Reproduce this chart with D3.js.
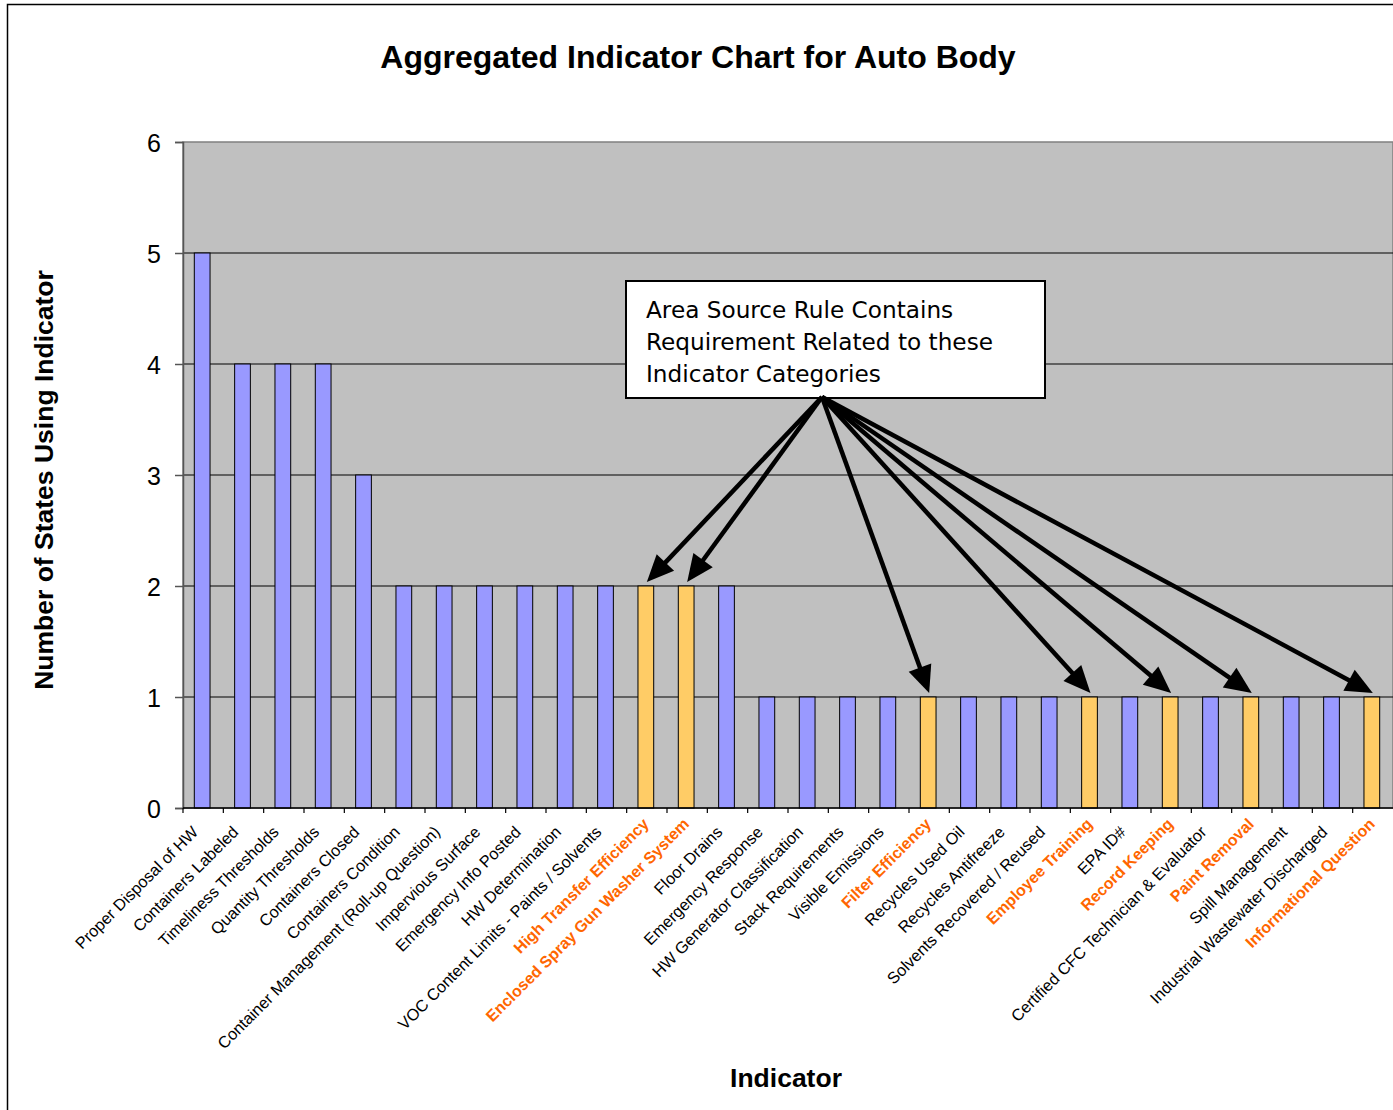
<!DOCTYPE html>
<html>
<head>
<meta charset="utf-8">
<script src="https://cdn.jsdelivr.net/npm/d3@7"></script>
<style>
  html, body { margin: 0; padding: 0; background: #fff; }
  svg { display: block; }
</style>
</head>
<body>
<svg id="chart" width="1393" height="1110"></svg>
<script>
// ---- data ----
const categories = [
  "Proper Disposal of HW", "Containers Labeled", "Timeliness Thresholds", "Quantity Thresholds",
  "Containers Closed", "Containers Condition", "Container Management (Roll-up Question)",
  "Impervious Surface", "Emergency Info Posted", "HW Determination",
  "VOC Content Limits - Paints / Solvents", "High Transfer Efficiency",
  "Enclosed Spray Gun Washer System", "Floor Drains", "Emergency Response",
  "HW Generator Classification", "Stack Requirements", "Visible Emissions",
  "Filter Efficiency", "Recycles Used Oil", "Recycles Antifreeze",
  "Solvents Recovered / Reused", "Employee Training", "EPA ID#", "Record Keeping",
  "Certified CFC Technician & Evaluator", "Paint Removal", "Spill Management",
  "Industrial Wastewater Discharged", "Informational Question"
];
const values = [5, 4, 4, 4, 3, 2, 2, 2, 2, 2, 2, 2, 2, 2, 1, 1, 1, 1, 1, 1, 1, 1, 1, 1, 1, 1, 1, 1, 1, 1];
const highlighted = [
  "High Transfer Efficiency", "Enclosed Spray Gun Washer System", "Filter Efficiency",
  "Employee Training", "Record Keeping", "Paint Removal", "Informational Question"
];
const yTicks = [0, 1, 2, 3, 4, 5, 6];
const titleText = "Aggregated Indicator Chart for Auto Body";
const yTitle = "Number of States Using Indicator";
const xTitle = "Indicator";
const noteLines = ["Area Source Rule Contains", "Requirement Related to these", "Indicator Categories"];

// ---- layout ----
const svg = d3.select("#chart");
const plot = { left: 183, top: 142, right: 1393, bottom: 808 };
const BLUE = "#9999FF", ORANGE_BAR = "#FFCC66", ORANGE_TXT = "#FF6600", PLOT_BG = "#C0C0C0";

const x = d3.scaleBand().domain(categories).range([plot.left, plot.right]).padding(0);
const y = d3.scaleLinear().domain([0, 6]).range([plot.bottom, plot.top]);
const barW = x.bandwidth() * 0.39;

// outer frame
svg.append("rect").attr("x", 7.5).attr("y", 4.5).attr("width", 1450).attr("height", 1200)
  .attr("fill", "#fff").attr("stroke", "#000").attr("stroke-width", 1.5);

// title
svg.append("text").attr("x", 698).attr("y", 68).attr("text-anchor", "middle")
  .attr("font-family", "Liberation Sans, Arial, sans-serif").attr("font-weight", "bold")
  .attr("font-size", 32).text(titleText);

// plot background
svg.append("rect").attr("x", plot.left).attr("y", plot.top)
  .attr("width", plot.right - plot.left).attr("height", plot.bottom - plot.top)
  .attr("fill", PLOT_BG).attr("stroke", "#808080").attr("stroke-width", 1.5);

// gridlines
svg.append("g").selectAll("line").data(yTicks.filter(t => t > 0 && t < 6)).join("line")
  .attr("x1", plot.left).attr("x2", plot.right)
  .attr("y1", d => y(d)).attr("y2", d => y(d))
  .attr("stroke", "#000").attr("stroke-width", 1);

// bars
svg.append("g").selectAll("rect").data(categories).join("rect")
  .attr("x", d => x(d) + x.bandwidth() / 2 - barW / 2 - 1)
  .attr("width", barW)
  .attr("y", (d, i) => y(values[i]))
  .attr("height", (d, i) => y(0) - y(values[i]))
  .attr("fill", d => highlighted.includes(d) ? ORANGE_BAR : BLUE)
  .attr("stroke", "#000").attr("stroke-width", 1);

// y axis
const yAxis = d3.axisLeft(y).tickValues(yTicks).tickFormat(d3.format("d")).tickSize(8).tickPadding(14);
const yg = svg.append("g").attr("transform", `translate(${plot.left},0)`).call(yAxis);
yg.select(".domain").attr("stroke", "#555").attr("stroke-width", 1.5);
yg.selectAll(".tick line").attr("stroke", "#555").attr("stroke-width", 1.5);
yg.selectAll(".tick text").attr("font-family", "Liberation Sans, Arial, sans-serif")
  .attr("font-size", 25).attr("fill", "#000").attr("dy", "0.36em");

// x axis (ticks at band boundaries)
const xg = svg.append("g");
xg.append("line").attr("x1", plot.left).attr("x2", plot.right)
  .attr("y1", plot.bottom).attr("y2", plot.bottom).attr("stroke", "#000").attr("stroke-width", 1.5);
xg.selectAll("line.tk").data(categories).join("line").attr("class", "tk")
  .attr("x1", d => x(d)).attr("x2", d => x(d))
  .attr("y1", plot.bottom).attr("y2", plot.bottom + 5)
  .attr("stroke", "#000").attr("stroke-width", 1.2);

// category labels
xg.selectAll("text").data(categories).join("text")
  .attr("transform", d => {
    const hl = highlighted.includes(d);
    const cx = x(d) + x.bandwidth() / 2 - 4 + (hl ? 7 : 0);
    const cy = plot.bottom + 25 - (hl ? 8 : 0);
    return `translate(${cx},${cy}) rotate(-45)`;
  })
  .attr("text-anchor", "end")
  .attr("font-family", "Liberation Sans, Arial, sans-serif")
  .attr("font-size", d => highlighted.includes(d) ? 16 : 16.3)
  .attr("font-weight", d => highlighted.includes(d) ? "bold" : "normal")
  .attr("fill", d => highlighted.includes(d) ? ORANGE_TXT : "#000")
  .text(d => d);

// axis titles
svg.append("text").attr("transform", "translate(53,480) rotate(-90)").attr("text-anchor", "middle")
  .attr("font-family", "Liberation Sans, Arial, sans-serif").attr("font-weight", "bold")
  .attr("font-size", 26.5).text(yTitle);
svg.append("text").attr("x", 786).attr("y", 1087).attr("text-anchor", "middle")
  .attr("font-family", "Liberation Sans, Arial, sans-serif").attr("font-weight", "bold")
  .attr("font-size", 26.5).text(xTitle);

// annotation box
const box = { x: 626, y: 281, w: 419, h: 117 };
svg.append("rect").attr("x", box.x).attr("y", box.y).attr("width", box.w).attr("height", box.h)
  .attr("fill", "#fff").attr("stroke", "#000").attr("stroke-width", 2);
svg.append("g").selectAll("text").data(noteLines).join("text")
  .attr("x", box.x + 20).attr("y", (d, i) => box.y + 37 + i * 32)
  .attr("font-family", "DejaVu Sans, Verdana, sans-serif").attr("font-size", 23.2)
  .attr("fill", "#000").text(d => d);

// arrows from the box to highlighted bars
const origin = [822, 397];
const ag = svg.append("g");
highlighted.forEach(name => {
  const i = categories.indexOf(name);
  const tip = [x(name) + x.bandwidth() / 2, y(values[i]) - 4];
  const dx = tip[0] - origin[0], dy = tip[1] - origin[1];
  const len = Math.hypot(dx, dy);
  const u = [dx / len, dy / len], n = [-u[1], u[0]];
  const headL = 27, headW = 12;
  const base = [tip[0] - u[0] * headL, tip[1] - u[1] * headL];
  ag.append("line").attr("x1", origin[0]).attr("y1", origin[1])
    .attr("x2", base[0] + u[0] * 2).attr("y2", base[1] + u[1] * 2)
    .attr("stroke", "#000").attr("stroke-width", 4.5);
  ag.append("polygon")
    .attr("points", [tip, [base[0] + n[0] * headW, base[1] + n[1] * headW], [base[0] - n[0] * headW, base[1] - n[1] * headW]]
      .map(p => p.join(",")).join(" "))
    .attr("fill", "#000");
});
</script>
</body>
</html>
